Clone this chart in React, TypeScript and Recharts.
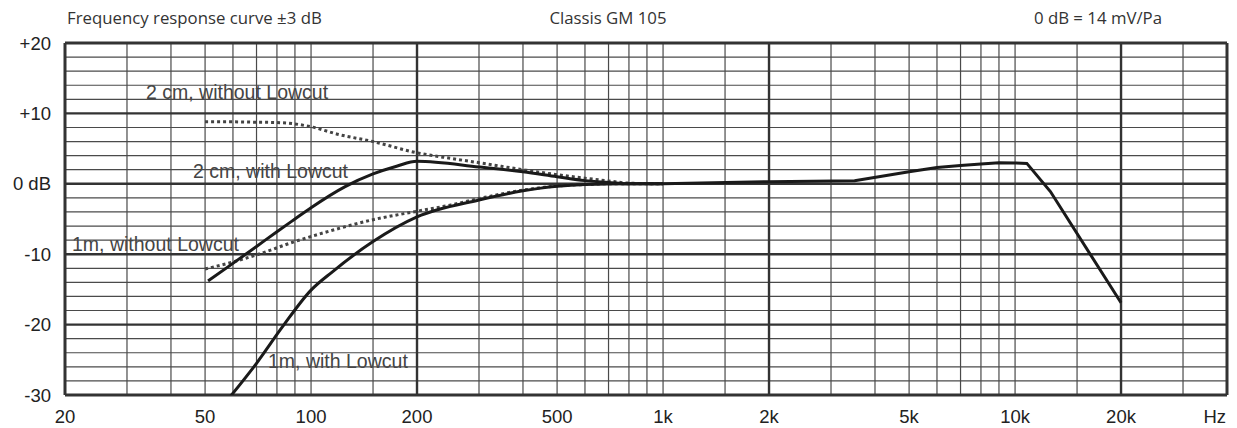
import React from "react";
import { LineChart, Line, XAxis, YAxis, ReferenceLine } from "recharts";

// frequency response, Classis GM 105
const freq2cmOpen = [50, 60, 70, 80, 90, 100, 120, 150, 200, 250, 300, 400, 500, 600, 700, 800, 1000];
const db2cmOpen = [8.8, 8.8, 8.75, 8.7, 8.5, 8.1, 7.0, 6.0, 4.4, 3.6, 3.0, 2.0, 1.3, 0.8, 0.4, 0.1, 0.0];

const freq2cmCut = [51, 60, 70, 80, 90, 100, 125, 150, 175, 200, 300, 400, 500, 600, 700, 800, 1000];
const db2cmCut = [-13.8, -11.3, -8.9, -6.8, -5.0, -3.4, -0.4, 1.4, 2.5, 3.2, 2.4, 1.7, 1.0, 0.45, 0.2, 0.0, 0.0];

const freq1mOpen = [50, 60, 70, 90, 115, 150, 200, 250, 300, 400, 500, 600, 700, 800, 1000];
const db1mOpen = [-12.1, -11.1, -10.1, -8.2, -6.6, -5.1, -3.9, -3.0, -2.1, -0.9, -0.3, -0.1, 0.0, 0.0, 0.0];

const freq1mCut = [59, 70, 83, 100, 115, 150, 200, 300, 400, 500, 600, 800, 1000];
const db1mCut = [-30.2, -25.5, -20.3, -15.1, -12.5, -8.2, -4.7, -2.3, -1.0, -0.35, -0.1, 0.0, 0.0];

// all four curves run together above 1 kHz
const freqCommon = [1000, 2000, 3500, 5000, 6000, 7000, 8000, 9000, 10000, 10800, 12600, 20000];
const dbCommon = [0.0, 0.3, 0.45, 1.7, 2.3, 2.6, 2.8, 3.0, 2.95, 2.9, -1.1, -16.9];

const freqTicks = [20, 50, 100, 200, 500, 1000, 2000, 5000, 10000, 20000];
const dbTicks = [20, 10, 0, -10, -20, -30];

const minorFreqs = [30, 40, 50, 60, 70, 80, 90, 100, 150, 300, 400, 500, 600, 700, 800, 900, 1000, 1500, 3000, 4000, 5000, 6000, 7000, 8000, 9000, 10000, 15000, 30000];
const majorFreqs = [200, 2000, 20000];
const edgeFreqs = [20, 40000];
const minorDb = [18, 16, 14, 12, 8, 6, 4, 2, -2, -4, -6, -8, -12, -14, -16, -18, -22, -24, -26, -28];
const majorDb = [10, 0, -10, -20];
const edgeDb = [20, -30];

const toPoints = (fs: number[], ds: number[]) => fs.map((f, i) => ({ f, db: ds[i] }));

const s2cmOpen = toPoints(freq2cmOpen, db2cmOpen);
const s2cmCut = toPoints(freq2cmCut, db2cmCut);
const s1mOpen = toPoints(freq1mOpen, db1mOpen);
const s1mCut = toPoints(freq1mCut, db1mCut);
const sCommon = toPoints(freqCommon, dbCommon);

const fmtFreq = (v: number) => (v >= 1000 ? `${v / 1000}k` : `${v}`);
const fmtDb = (v: number) => (v > 0 ? `+${v}` : v === 0 ? "0 dB" : `${v}`);

const W = 1237;
const H = 428;
const tickFont = { fontFamily: "Liberation Sans, Arial, sans-serif", fontSize: 18.5, fill: "#222" };
const labelFont = { fontFamily: "Liberation Sans, Arial, sans-serif", fontSize: 19.5, fill: "#444" };
const titleFont = { fontFamily: "Open Sans, sans-serif", fontSize: 16.8, fill: "#333" };

export default function App() {
  return (
    <div style={{ position: "relative", width: W, height: H, background: "#fff" }}>
      <style>{"body{margin:0}"}</style>
      {/* texts sit behind the grid, like on the sheet */}
      <svg width={W} height={H} style={{ position: "absolute", left: 0, top: 0 }}>
        <text x={67} y={24} {...titleFont}>Frequency response curve ±3 dB</text>
        <text x={608} y={24} textAnchor="middle" {...titleFont}>Classis GM 105</text>
        <text x={1162} y={24} textAnchor="end" {...titleFont}>0 dB = 14 mV/Pa</text>
        <text x={146} y={99} {...labelFont}>2 cm, without Lowcut</text>
        <text x={193} y={178} {...labelFont}>2 cm, with Lowcut</text>
        <text x={72} y={251} {...labelFont}>1m, without Lowcut</text>
        <text x={268} y={368} {...labelFont}>1m, with Lowcut</text>
        <text x={1226} y={423} textAnchor="end" {...tickFont}>Hz</text>
      </svg>
      <div style={{ position: "absolute", left: 0, top: 0 }}>
        <LineChart width={W} height={H} margin={{ top: 43, right: 10, bottom: 0, left: 0 }}>
          <XAxis
            dataKey="f"
            type="number"
            scale="log"
            domain={[20, 40000]}
            ticks={freqTicks}
            tickFormatter={fmtFreq}
            allowDataOverflow
            axisLine={false}
            tickLine={false}
            tickSize={0}
            tickMargin={15}
            height={33}
            interval={0}
            tick={tickFont}
          />
          <YAxis
            type="number"
            domain={[-30, 20]}
            ticks={dbTicks}
            tickFormatter={fmtDb}
            allowDataOverflow
            axisLine={false}
            tickLine={false}
            tickSize={0}
            tickMargin={14}
            width={65}
            interval={0}
            tick={tickFont}
          />
          {minorFreqs.map((f) => (
            <ReferenceLine key={`vx${f}`} x={f} stroke="#4a4a4a" strokeWidth={1.2} />
          ))}
          {minorDb.map((d) => (
            <ReferenceLine key={`hy${d}`} y={d} stroke="#4a4a4a" strokeWidth={1.2} />
          ))}
          {majorFreqs.map((f) => (
            <ReferenceLine key={`VX${f}`} x={f} stroke="#333" strokeWidth={2.4} />
          ))}
          {majorDb.map((d) => (
            <ReferenceLine key={`HY${d}`} y={d} stroke="#333" strokeWidth={2.4} />
          ))}
          {edgeFreqs.map((f) => (
            <ReferenceLine key={`EX${f}`} x={f} stroke="#333" strokeWidth={3} />
          ))}
          {edgeDb.map((d) => (
            <ReferenceLine key={`EY${d}`} y={d} stroke="#333" strokeWidth={3} />
          ))}
          <Line data={s2cmOpen} dataKey="db" type="monotone" stroke="#444" strokeWidth={3} strokeDasharray="3 3" dot={false} activeDot={false} isAnimationActive={false} />
          <Line data={s1mOpen} dataKey="db" type="monotone" stroke="#444" strokeWidth={3} strokeDasharray="3 3" dot={false} activeDot={false} isAnimationActive={false} />
          <Line data={s2cmCut} dataKey="db" type="monotone" stroke="#1a1a1a" strokeWidth={3} dot={false} activeDot={false} isAnimationActive={false} />
          <Line data={s1mCut} dataKey="db" type="monotone" stroke="#1a1a1a" strokeWidth={3} dot={false} activeDot={false} isAnimationActive={false} />
          <Line data={sCommon} dataKey="db" type="linear" stroke="#1a1a1a" strokeWidth={3} dot={false} activeDot={false} isAnimationActive={false} />
        </LineChart>
      </div>
    </div>
  );
}
